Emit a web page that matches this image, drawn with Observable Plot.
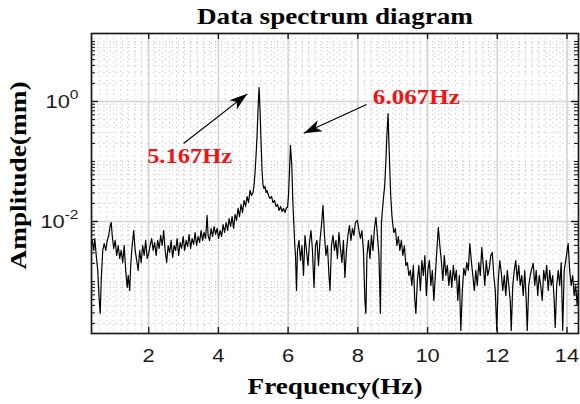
<!DOCTYPE html>
<html><head><meta charset="utf-8">
<script src="https://cdn.jsdelivr.net/npm/d3@7"></script>
<script src="https://cdn.jsdelivr.net/npm/@observablehq/plot@0.6"></script>
<style>body{margin:0;background:#fff;} svg{display:block}</style>
</head><body><div id="chart"></div>
<script>
// ---- data ----
const freqHz = [
0.381,0.424,0.453,0.496,0.539,0.582,0.610,0.639,0.682,0.725,0.768,0.811,0.854,0.897,0.926,0.954,0.997,1.040,1.083,1.126,1.169,1.212,1.255,1.298,1.341,1.384,1.413,1.456,1.484,1.527,1.570,1.613,1.656,1.699,1.742,1.785,1.828,1.871,1.914,1.957,2.000,
2.043,2.086,2.129,2.172,2.215,2.258,2.301,2.344,2.387,2.430,2.473,2.516,2.559,2.602,2.645,2.688,2.731,2.774,2.817,2.860,2.903,2.946,2.989,3.032,3.074,3.117,3.160,3.203,3.246,3.289,3.332,3.375,3.418,3.461,3.504,3.547,3.590,3.633,3.676,3.705,3.748,3.791,3.834,3.877,3.920,3.963,4.006,
4.049,4.092,4.135,4.178,4.221,4.264,4.307,4.350,4.393,4.436,4.479,4.521,4.564,4.607,4.650,4.693,4.736,4.779,4.822,4.865,4.908,4.951,4.994,5.023,5.052,5.080,5.109,5.138,5.167,5.195,5.223,5.252,5.281,5.309,5.338,5.367,5.395,5.438,5.481,5.524,5.567,5.610,5.653,5.696,5.739,5.782,5.825,5.868,5.911,5.954,
5.983,6.011,6.040,6.067,6.106,6.135,6.163,6.192,6.212,6.241,6.269,6.312,6.355,6.398,6.441,6.484,6.527,6.570,6.613,6.656,6.699,6.742,6.785,6.828,6.871,6.914,6.957,7.000,7.043,7.086,7.129,7.172,7.201,7.244,7.287,7.330,7.372,7.415,7.458,7.501,7.544,7.587,7.630,7.673,7.716,7.759,7.802,7.845,7.888,7.931,7.989,8.032,8.074,8.117,8.160,8.203,8.232,8.261,8.304,8.347,8.390,8.433,8.476,8.519,8.562,8.605,8.648,8.676,8.705,8.734,8.771,8.805,8.834,8.867,8.885,8.914,8.943,8.977,9.006,9.034,
9.077,9.120,9.163,9.206,9.249,9.292,9.335,9.378,9.421,9.464,9.507,9.550,9.593,9.636,9.665,9.708,9.751,9.794,9.837,9.880,9.923,9.966,10.009,10.052,10.095,10.138,10.181,10.224,10.266,10.309,10.352,10.395,10.438,10.481,10.524,10.567,10.610,10.653,10.696,10.739,10.782,10.825,10.868,10.911,10.954,10.997,11.040,11.083,11.126,11.169,11.212,11.255,11.298,11.341,11.384,11.427,11.470,11.513,11.556,11.599,11.642,11.685,11.728,11.771,11.814,11.857,11.900,11.943,11.986,12.029,12.072,12.115,12.158,12.201,12.244,12.287,12.330,12.372,12.401,12.444,12.487,12.530,12.573,12.616,12.659,12.702,12.745,12.788,12.831,12.860,12.903,12.946,12.989,13.032,13.074,13.117,13.160,13.203,13.246,13.289,13.332,13.375,13.418,13.461,13.504,13.547,13.590,13.633,13.662,13.705,13.748,13.791,13.834,13.877,13.920,13.963,14.006,14.034,14.077,14.120,14.163,14.206,14.249,14.292,14.321
];
const amplitudeMm = [
0.00483,0.00329,0.00521,0.00271,0.00153,0.000483,0.000293,0.00104,0.00329,0.0043,0.00329,0.00483,0.00585,0.00858,0.00962,0.00585,0.00355,0.00483,0.00271,0.00398,0.00242,0.00329,0.00207,0.00398,0.00153,0.000794,0.00126,0.000708,0.00185,0.00398,0.00708,0.00329,0.00224,0.00153,0.00329,0.00207,0.00398,0.00271,0.00483,0.00242,0.00293,
0.00398,0.00521,0.00329,0.00447,0.00271,0.00483,0.00355,0.00585,0.00398,0.00708,0.00329,0.00207,0.00398,0.00304,0.00483,0.00251,0.00398,0.00329,0.00521,0.00271,0.00447,0.00355,0.00562,0.00329,0.00483,0.00383,0.00608,0.00355,0.00521,0.00414,0.00656,0.00398,0.00562,0.00447,0.00708,0.00483,0.00656,0.00521,0.0126,0.00585,0.00483,0.00765,0.00562,0.00825,0.00608,0.00765,0.00521,
0.00708,0.00562,0.00891,0.00656,0.00962,0.00708,0.0112,0.00825,0.0121,0.00765,0.0131,0.0104,0.0165,0.0121,0.0192,0.0141,0.0224,0.0178,0.0261,0.0207,0.0329,0.0271,0.0304,0.0398,0.0656,0.126,0.271,0.764,1.711,0.708,0.224,0.0708,0.0398,0.0355,0.0383,0.0304,0.0329,0.0271,0.0242,0.0261,0.0207,0.0224,0.0178,0.0192,0.0153,0.0178,0.0147,0.0165,0.0141,0.0171,
0.0171,0.0271,0.0708,0.185,0.0858,0.0224,0.00926,0.00398,0.00271,0.000708,0.00329,0.00483,0.00224,0.00398,0.00126,0.00585,0.00329,0.00185,0.00447,0.00708,0.00329,0.000794,0.00398,0.00483,0.00185,0.00483,0.00858,0.0185,0.00585,0.00271,0.00398,0.00126,0.000708,0.00398,0.00585,0.00329,0.00483,0.00242,0.00656,0.00355,0.00207,0.00483,0.00117,0.00329,0.00585,0.00858,0.00483,0.00765,0.00585,0.00962,0.0104,0.00708,0.00521,0.00708,0.00329,0.000483,0.000293,0.00271,0.00483,0.00242,0.00585,0.00329,0.00765,0.0117,0.00585,0.00271,0.000293,0.00926,0.0153,0.0242,0.0398,0.104,0.271,0.631,0.271,0.0858,0.0271,0.0126,0.00858,0.00656,
0.00765,0.00398,0.00562,0.00329,0.00483,0.00271,0.00398,0.00185,0.00207,0.00126,0.00153,0.000858,0.00185,0.000483,0.000293,0.00104,0.00185,0.000708,0.00224,0.00126,0.00271,0.000585,0.00153,0.00224,0.000858,0.00153,0.000483,0.00126,0.00329,0.00794,0.00398,0.00224,0.00104,0.00271,0.00126,0.00185,0.000858,0.00153,0.000794,0.00185,0.00104,0.00153,0.000483,0.00126,0.000153,0.000708,0.00165,0.00126,0.00207,0.00153,0.0043,0.00224,0.00126,0.000708,0.00153,0.000858,0.00207,0.00126,0.00369,0.00185,0.000858,0.00224,0.00126,0.00165,0.00271,0.00304,0.00126,0.000708,0.000153,0.00104,0.00224,0.00141,0.000708,0.00126,0.000585,0.00153,0.000858,0.000483,0.000153,0.000858,0.00153,0.00224,0.00104,0.00185,0.000858,0.00126,0.000585,0.00153,0.000483,0.000153,0.000858,0.00126,0.00165,0.002,0.000858,0.00153,0.000585,0.00126,0.000858,0.000483,0.00153,0.00104,0.00185,0.000708,0.00153,0.000858,0.00126,0.000483,0.000171,0.000858,0.00153,0.000858,0.00207,0.000153,0.00153,0.00224,0.00329,0.0043,0.00153,0.000858,0.00126,0.000585,0.000858,0.000398,0.000708
];
const xTickValues = [2, 4, 6, 8, 10, 12, 14];
const yTickValues = [0.01, 1];
const yTickLabels = ["10|-2", "10|0"];
const peakLabelText = ["5.167Hz", "6.067Hz"];
const peakLabelFreq = [3.175, 9.679];
const peakLabelAmp = [0.119, 1.144];
const arrowFromFreq = [3.00, 8.25];
const arrowFromAmp = [0.20, 0.89];
const arrowToFreq = [4.83, 6.45];
const arrowToAmp = [1.34, 0.296];
const titleText = "Data spectrum diagram";
const xLabelText = "Frequency(Hz)";
const yLabelText = "Amplitude(mm)";

// ---- build ----
const data = freqHz.map((f, i) => ({f, a: amplitudeMm[i]}));
const peaks = peakLabelText.map((t, i) => ({t, f: peakLabelFreq[i], a: peakLabelAmp[i]}));
const arrows = arrowFromFreq.map((f, i) => ({x1: f, y1: arrowFromAmp[i], x2: arrowToFreq[i], y2: arrowToAmp[i]}));

const W = 580, H = 404, mL = 91, mR = 2, mT = 33, mB = 71;
const fw = W - mL - mR, fh = H - mT - mB;
const xDomain = [0.36, 14.33], yDomain = [1.359e-4, 13.59];

const xMinor = d3.ticks(0.4, 14.2, 70).filter(v => Math.abs(v / 2 - Math.round(v / 2)) > 1e-6);
const yMinor = d3.scaleLog().domain([1e-4, 20]).ticks()
  .filter(v => v >= yDomain[0] && v <= yDomain[1] && !yTickValues.some(t => Math.abs(t - v) / t < 1e-6));

const serif = "'Liberation Serif', 'Times New Roman', serif";
const gridMinor = "#c2c2c2", gridMajor = "#d3d3d3", ink = "#1a1a1a";

const plot = Plot.plot({
  width: W, height: H,
  marginLeft: mL, marginRight: mR, marginTop: mT, marginBottom: mB,
  style: {fontFamily: "'Liberation Sans', Arial, sans-serif", fontSize: "19px", color: ink, background: "#fff"},
  x: {domain: xDomain},
  y: {type: "log", domain: yDomain},
  marks: [
    Plot.ruleX(xMinor, {stroke: gridMinor, strokeWidth: 1, strokeDasharray: "1.2,3.5"}),
    Plot.ruleY(yMinor, {stroke: gridMinor, strokeWidth: 1, strokeDasharray: "1.2,5"}),
    Plot.ruleX(xTickValues, {stroke: gridMajor, strokeWidth: 1.6}),
    Plot.ruleY(yTickValues, {stroke: gridMajor, strokeWidth: 1.6}),
    Plot.line(data, {x: "f", y: "a", stroke: "#000", strokeWidth: 1.2, clip: true}),
    Plot.ruleX(xTickValues, {insetTop: fh - 6, stroke: ink, strokeWidth: 1.4}),
    Plot.ruleX(xTickValues, {insetBottom: fh - 6, stroke: ink, strokeWidth: 1.4}),
    Plot.ruleY(yTickValues, {insetRight: fw - 7, stroke: ink, strokeWidth: 1.4}),
    Plot.ruleY(yTickValues, {insetLeft: fw - 7, stroke: ink, strokeWidth: 1.4}),
    Plot.ruleY(yMinor, {insetRight: fw - 4, stroke: ink, strokeWidth: 1.1}),
    Plot.ruleY(yMinor, {insetLeft: fw - 4, stroke: ink, strokeWidth: 1.1}),
    Plot.frame({stroke: ink, strokeWidth: 1.7}),
    Plot.axisX({ticks: xTickValues, tickSize: 0, tickPadding: 15, label: null, fill: ink}),
    Plot.axisY({ticks: yTickValues, tickSize: 0, tickPadding: 13, label: null, fill: ink,
      tickFormat: v => yTickLabels[yTickValues.indexOf(v)]}),
    Plot.link(arrows, {x1: "x1", y1: "y1", x2: "x2", y2: "y2", stroke: "#000", strokeWidth: 1.2, markerEnd: "arrow"}),
    Plot.text(peaks, {x: "f", y: "a", text: "t", fill: "#f01414", fontFamily: serif, fontWeight: "bold", fontSize: 20}),
    Plot.text([titleText], {frameAnchor: "top", lineAnchor: "middle", dy: -17, fontFamily: serif, fontWeight: "bold", fontSize: 24, fill: "#000"}),
    Plot.text([xLabelText], {frameAnchor: "bottom", lineAnchor: "middle", dy: 53, fontFamily: serif, fontWeight: "bold", fontSize: 24, fill: "#000"}),
    Plot.text([yLabelText], {frameAnchor: "left", textAnchor: "middle", lineAnchor: "middle", dx: -73.5, dy: -8, rotate: -90, fontFamily: serif, fontWeight: "bold", fontSize: 24, fill: "#000"})
  ]
});
document.getElementById("chart").append(plot);

// ---- post-processing: superscripts, stretched type, filled arrow heads ----
const svg = d3.select(plot);
svg.selectAll('g[aria-label$="tick label"] text').each(function () {
  const parts = this.textContent.split("|");
  if (parts.length === 2) {
    const t = d3.select(this);
    t.text(parts[0]);
    t.append("tspan").attr("dy", "-0.62em").attr("font-size", "13.5px").text(parts[1]);
  }
});
svg.selectAll('g[aria-label$="tick label"] text').each(function () {
  const len = this.getComputedTextLength();
  this.setAttribute("textLength", (len * 1.15).toFixed(1));
  this.setAttribute("lengthAdjust", "spacingAndGlyphs");
});
const targetLen = {[titleText]: 276, [xLabelText]: 175, [yLabelText]: 188, "5.167Hz": 85, "6.067Hz": 87};
svg.selectAll("text").each(function () {
  const L = targetLen[this.textContent];
  if (L) { this.setAttribute("textLength", L); this.setAttribute("lengthAdjust", "spacingAndGlyphs"); }
});
svg.selectAll("marker")
  .attr("viewBox", "-10 -5 10 10").attr("markerUnits", "userSpaceOnUse")
  .attr("markerWidth", 18).attr("markerHeight", 18)
  .attr("fill", "#000").attr("stroke", "none")
  .selectAll("path").attr("d", "M0,0L-10,-3.3L-7.3,0L-10,3.3Z");
</script>
</body></html>
